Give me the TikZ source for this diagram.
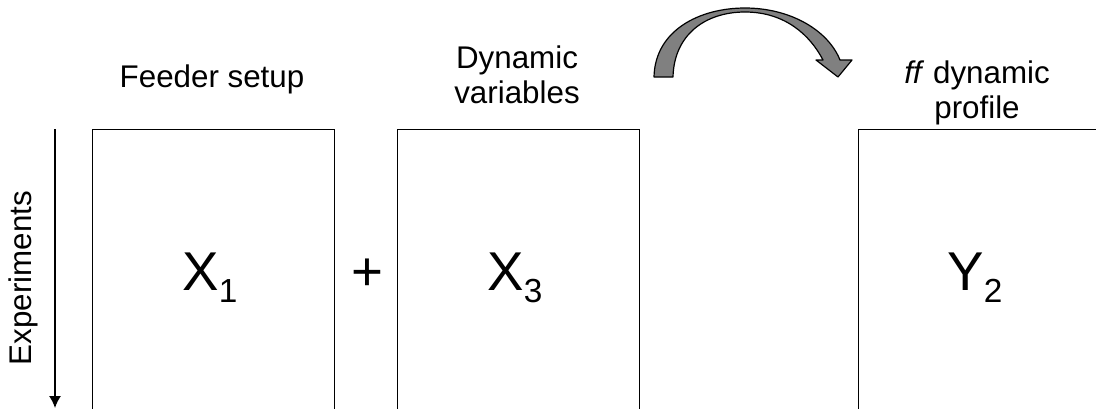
\documentclass[tikz,border=0pt]{standalone}
\usepackage{fontspec}
\setmainfont{Liberation Sans}
\usetikzlibrary{arrows.meta}
\begin{document}
\begin{tikzpicture}[x=0.75pt,y=-0.75pt,
  lbl/.style={font=\fontsize{23.5}{26.25}\selectfont, align=center, inner sep=0pt, anchor=base},
  big/.style={font=\fontsize{41}{41}\selectfont, inner sep=0pt, anchor=base},
  mat/.style={draw, line width=1.1pt, minimum width=242*0.75pt, minimum height=320*0.75pt, anchor=north west, inner sep=0pt},
  curved/.style={fill=black!50, draw=black, line width=0.9pt, line join=round}]
\useasboundingbox (0,0) rectangle (1096,408);
\clip (0,0) rectangle (1096,408);
% matrices (open at the bottom of the picture)
\node[mat] (b1) at (92,129) {};
\node[mat] (b2) at (397,129) {};
\node[mat, minimum width=260*0.75pt] (b3) at (858,129) {};
% headings (base = baseline of the last line)
\node[lbl] (t1) at (212,87) {Feeder setup};
\node[lbl] (t2) at (517,103) {Dynamic\\variables};
\node[lbl] (t3) at (977,118) {\textit{ff} dynamic\\profile};
% contents
\def\sub#1{\raisebox{-9.5pt}{\fontsize{25}{25}\selectfont #1}}
\node[big] (x1) at (210,290) {X\sub{1}};
\node[big] (x3) at (515,290) {X\sub{3}};
\node[big] (y2) at (975,290) {Y\sub{2}};
\node[font=\fontsize{41}{41}\selectfont, inner sep=0pt] (plus) at (367,275) {+};
% experiments axis
\coordinate (e0) at (55,129);
\coordinate (e1) at (55,408);
\draw[line width=1.1pt, -{Latex[length=9pt,width=9pt]}] (e0) -- (e1);
\node[lbl, anchor=center, rotate=90] (exp) at (23,278) {Experiments};
% curved arrow
\path[curved] (654,77) .. controls (655,30) and (700,8) .. (745,8)
  .. controls (790,8) and (828,30) .. (840,60)
  -- (852,60) -- (838,77) -- (816,60) -- (823,60)
  .. controls (810,35) and (785,12) .. (745,12)
  .. controls (705,12) and (674,35) .. (673,77) -- cycle;
\end{tikzpicture}
\end{document}
